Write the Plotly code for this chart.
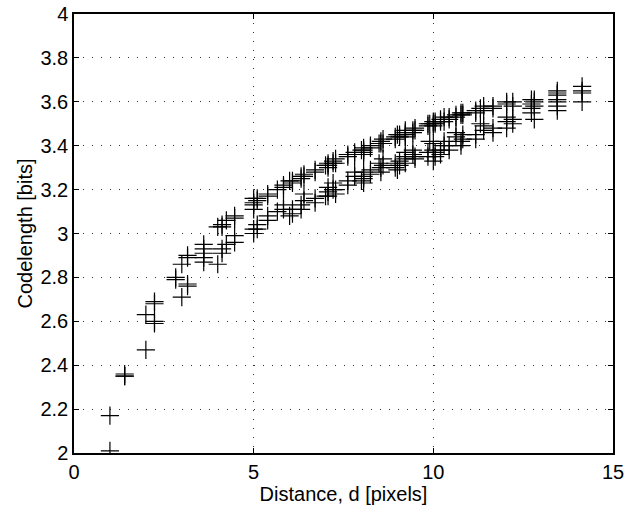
import plotly.graph_objects as go

# Distance groups and read-off codelength values
groups = [
    (1.00, [2.17, 2.01]),
    (1.41, [2.36, 2.35, 2.35]),
    (2.00, [2.63, 2.47]),
    (2.24, [2.69, 2.68, 2.60, 2.59]),
    (2.83, [2.80, 2.79]),
    (3.00, [2.86, 2.71]),
    (3.16, [2.90, 2.89, 2.77, 2.76]),
    (3.61, [2.95, 2.93, 2.91, 2.89, 2.87]),
    (4.00, [3.03, 2.86]),
    (4.12, [3.04, 3.03, 2.93, 2.91]),
    (4.24, [3.06, 2.95]),
    (4.47, [3.08, 3.07, 2.99, 2.96]),
    (5.00, [3.16, 3.14, 3.13, 3.11, 3.02, 3.00]),
    (5.10, [3.16, 3.15, 3.04, 3.02]),
    (5.39, [3.18, 3.17, 3.08, 3.06]),
    (5.66, [3.20, 3.10]),
    (5.83, [3.22, 3.21, 3.13, 3.11]),
    (6.00, [3.24, 3.08]),
    (6.08, [3.24, 3.23, 3.11, 3.09]),
    (6.32, [3.26, 3.25, 3.13, 3.11]),
    (6.40, [3.27, 3.26, 3.18, 3.15]),
    (6.71, [3.29, 3.28, 3.16, 3.14]),
    (7.00, [3.31, 3.17]),
    (7.07, [3.32, 3.31, 3.30, 3.21, 3.19, 3.17]),
    (7.21, [3.33, 3.32, 3.23, 3.20]),
    (7.28, [3.34, 3.32, 3.20, 3.18]),
    (7.62, [3.36, 3.35, 3.24, 3.22]),
    (7.81, [3.37, 3.36, 3.28, 3.26]),
    (8.00, [3.38, 3.24]),
    (8.06, [3.39, 3.38, 3.37, 3.36, 3.28, 3.26, 3.25, 3.23]),
    (8.25, [3.40, 3.39, 3.29, 3.27]),
    (8.49, [3.41, 3.32]),
    (8.54, [3.42, 3.41, 3.30, 3.28]),
    (8.60, [3.43, 3.41, 3.34, 3.31]),
    (8.94, [3.44, 3.43, 3.32, 3.30]),
    (9.00, [3.45, 3.29]),
    (9.06, [3.45, 3.44, 3.33, 3.31]),
    (9.22, [3.47, 3.46, 3.45, 3.44, 3.37, 3.35, 3.34, 3.32]),
    (9.43, [3.47, 3.46, 3.38, 3.36]),
    (9.49, [3.48, 3.47, 3.35, 3.34]),
    (9.85, [3.50, 3.49, 3.37, 3.35]),
    (9.90, [3.50, 3.42]),
    (10.00, [3.51, 3.50, 3.49, 3.41, 3.38, 3.33]),
    (10.05, [3.51, 3.50, 3.37, 3.35]),
    (10.20, [3.52, 3.51, 3.38, 3.36]),
    (10.30, [3.53, 3.51, 3.42, 3.40]),
    (10.44, [3.53, 3.52, 3.40, 3.38]),
    (10.63, [3.54, 3.53, 3.46, 3.44]),
    (10.77, [3.55, 3.54, 3.42, 3.40]),
    (10.82, [3.55, 3.54, 3.45, 3.43]),
    (11.18, [3.56, 3.55, 3.45, 3.43]),
    (11.31, [3.57, 3.50]),
    (11.40, [3.58, 3.56, 3.49, 3.47]),
    (11.66, [3.58, 3.57, 3.48, 3.46]),
    (12.04, [3.60, 3.59, 3.53, 3.51, 3.48]),
    (12.21, [3.60, 3.58, 3.52, 3.50]),
    (12.73, [3.61, 3.59, 3.57, 3.55]),
    (12.81, [3.61, 3.60, 3.58, 3.52]),
    (13.45, [3.65, 3.64, 3.63, 3.61, 3.60, 3.58, 3.56]),
    (14.14, [3.67, 3.65, 3.64, 3.60]),
]

distance = [d for d, vals in groups for _ in vals]
codelength = [v for _, vals in groups for v in vals]

x_ticks = [0, 5, 10, 15]
y_ticks = [2, 2.2, 2.4, 2.6, 2.8, 3, 3.2, 3.4, 3.6, 3.8, 4]
y_tick_text = ["2", "2.2", "2.4", "2.6", "2.8", "3", "3.2", "3.4", "3.6", "3.8", "4"]

fig = go.Figure()
fig.add_trace(go.Scatter(
    x=distance, y=codelength, mode="markers",
    marker=dict(symbol="cross-thin-open", size=13,
                line=dict(color="black", width=1.2), color="black"),
    showlegend=False,
))

tick_font = dict(family="Liberation Sans, Arial, Helvetica, sans-serif", size=20, color="black")
title_font = dict(family="Liberation Sans, Arial, Helvetica, sans-serif", size=20, color="black")
axis_common = dict(
    showline=True, linecolor="black", linewidth=1.5, mirror="ticks",
    ticks="inside", ticklen=5, tickcolor="black",
    showgrid=True, gridcolor="#333", gridwidth=1, griddash="1px,8px",
    zeroline=False, tickfont=tick_font, automargin=False,
)
fig.update_xaxes(range=[0, 15], tickvals=x_ticks,
                 title=dict(text="Distance, d [pixels]", font=title_font, standoff=2),
                 **axis_common)
fig.update_yaxes(range=[2, 4], tickvals=y_ticks, ticktext=y_tick_text,
                 title=dict(text="Codelength [bits]", font=title_font, standoff=2),
                 **axis_common)
fig.update_layout(
    width=626, height=514,
    margin=dict(l=74, r=13, t=14, b=61),
    plot_bgcolor="white", paper_bgcolor="white",
    font=tick_font,
)
fig.write_html("out.html")
